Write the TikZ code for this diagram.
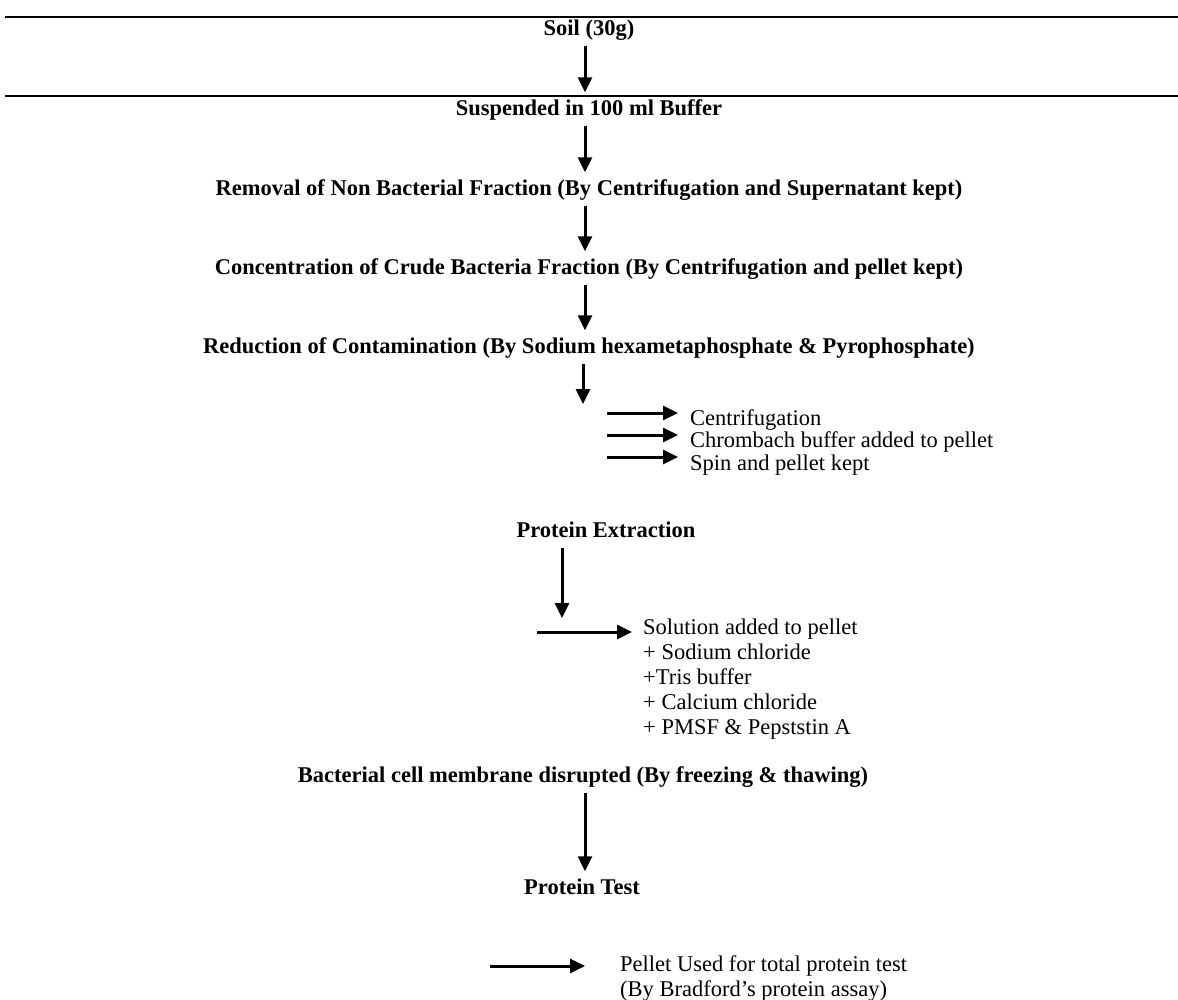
\documentclass[tikz,border=0pt]{standalone}
\usepackage{fontspec}
\setmainfont{Liberation Serif}
\usetikzlibrary{arrows.meta,positioning}

\begin{document}
\begin{tikzpicture}[x=1pt,y=-1pt,
  stage/.style={font=\fontsize{22.5}{23}\selectfont\bfseries, inner sep=0pt, text height=16pt, text depth=5pt},
  note/.style={font=\fontsize{22.5}{23}\selectfont, inner sep=0pt, anchor=west, text height=16pt, text depth=5pt},
  list/.style={font=\fontsize{22.5}{25}\selectfont, inner sep=0pt, anchor=north west, align=left},
  flow/.style={line width=3pt, -{Triangle[length=15pt,width=14pt]}, shorten <=5pt, shorten >=7pt},
  side/.style={line width=3pt, -{Triangle[length=15pt,width=14pt]}},
  rule/.style={line width=2.5pt}]
\useasboundingbox (0,0) rectangle (1178,999);

% header rules
\draw[rule] (5,17) -- (1178,17);
\draw[rule] (5,96) -- (1178,96);

% main steps
\node[stage] (soil) at (589,30) {Soil (30g)};
\node[stage] (susp) at (589,110) {Suspended in 100 ml Buffer};
\node[stage] (remov) at (589,190) {Removal of Non Bacterial Fraction (By Centrifugation and Supernatant kept)};
\node[stage] (conc) at (589,269) {Concentration of Crude Bacteria Fraction (By Centrifugation and pellet kept)};
\node[stage] (reduc) at (589,348) {Reduction of Contamination (By Sodium hexametaphosphate \& Pyrophosphate)};
\node[stage] (extr) at (606,532) {Protein Extraction};
\node[stage] (disr) at (583,777) {Bacterial cell membrane disrupted (By freezing \& thawing)};
\node[stage] (test) at (582,889) {Protein Test};

% side notes
\node[note] (cent) at (690,420) {Centrifugation};
\node[note] (chrom) at (690,442) {Chrombach buffer added to pellet};
\node[note] (spin) at (690,465) {Spin and pellet kept};
\node[list] (soln) at (643,619) {Solution added to pellet\\+ Sodium chloride\\+Tris buffer\\+ Calcium chloride\\+ PMSF \& Pepststin A};
\node[list] (pellet) at (620,955) {Pellet Used for total protein test\\(By Bradford's protein assay)};

% arrow ends
\coordinate (ax) at (585,0);
\coordinate (r5) at (583,404);
\coordinate (e6) at (562,618);
\coordinate (c1) at (607,413);
\coordinate (c2) at (607,435);
\coordinate (c3) at (607,457);
\coordinate (s6) at (537,632);
\coordinate (p8) at (490,966);

\draw[flow] (soil.south -| ax) -- (susp.north -| ax);
\draw[flow] (susp.south -| ax) -- (remov.north -| ax);
\draw[flow] (remov.south -| ax) -- (conc.north -| ax);
\draw[flow] (conc.south -| ax) -- (reduc.north -| ax);
\draw[flow, shorten >=0pt] (reduc.south -| r5) -- (r5);
\draw[side, shorten >=12pt] (c1) -- (cent.west |- c1);
\draw[side, shorten >=12pt] (c2) -- (chrom.west |- c2);
\draw[side, shorten >=12pt] (c3) -- (spin.west |- c3);
\draw[flow, shorten >=0pt] (extr.south -| e6) -- (e6);
\draw[side, shorten >=11pt] (s6) -- (soln.west |- s6);
\draw[flow] (disr.south -| ax) -- (test.north -| ax);
\draw[side, shorten >=35pt] (p8) -- (pellet.west |- p8);
\end{tikzpicture}
\end{document}
